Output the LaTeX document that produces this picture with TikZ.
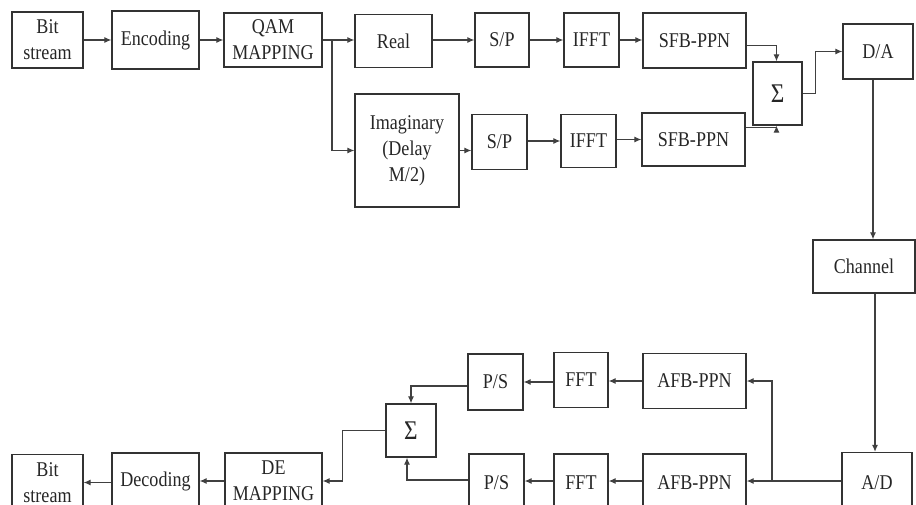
\documentclass[tikz,border=0pt]{standalone}
\usepackage{fontspec}
\setmainfont[FakeStretch=0.86]{Liberation Serif}
\usetikzlibrary{arrows.meta}
\begin{document}
\begin{tikzpicture}[x=1pt,y=-1pt,
  box/.style={draw=black!80, line width=1.3pt, align=center, inner sep=0pt,
    font=\fontsize{21}{26}\selectfont, text=black!85},
  sig/.style={box, font=\fontsize{27}{30}\selectfont},
  arr/.style={draw=black!75, line width=1.1pt, -{Latex[length=7pt,width=6pt]}},
  ln/.style={draw=black!75, line width=1.1pt}]
\useasboundingbox (0,0) rectangle (916,505);
% transmitter, top row
\node[box, minimum width=71pt, minimum height=56pt] (bs1) at (47.5,40) {Bit\\stream};
\node[box, minimum width=87pt, minimum height=58pt] (enc) at (155.5,40) {Encoding};
\node[box, minimum width=98pt, minimum height=54pt] (qam) at (273,40) {QAM\\MAPPING};
\node[box, minimum width=77pt, minimum height=53pt] (real) at (393.5,41) {Real};
\node[box, minimum width=104pt, minimum height=113pt] (imag) at (407,150.5) {Imaginary\\(Delay\\M/2)};
\node[box, minimum width=54pt, minimum height=54pt] (sp1) at (502,40) {S/P};
\node[box, minimum width=55pt, minimum height=54pt] (ifft1) at (591.5,40) {IFFT};
\node[box, minimum width=103pt, minimum height=55pt] (sfb1) at (694.5,40.5) {SFB-PPN};
\node[box, minimum width=55pt, minimum height=55pt] (sp2) at (499.5,142) {S/P};
\node[box, minimum width=55pt, minimum height=53pt] (ifft2) at (588.5,141) {IFFT};
\node[box, minimum width=103pt, minimum height=53pt] (sfb2) at (693.5,139.5) {SFB-PPN};
\node[sig, minimum width=49pt, minimum height=63pt] (sum1) at (777.5,93.5) {Σ};
\node[box, minimum width=70pt, minimum height=55pt] (da) at (878,51.5) {D/A};
\node[box, minimum width=102pt, minimum height=53pt] (chan) at (864,266.5) {Channel};
% receiver
\node[box, minimum width=70pt, minimum height=60pt] (ad) at (877,482.5) {A/D};
\node[box, minimum width=103pt, minimum height=55pt] (afb1) at (694.5,381) {AFB-PPN};
\node[box, minimum width=54pt, minimum height=55pt] (fft1) at (581,380) {FFT};
\node[box, minimum width=55pt, minimum height=56pt] (ps1) at (495.5,382) {P/S};
\node[box, minimum width=103pt, minimum height=58pt] (afb2) at (694.5,483) {AFB-PPN};
\node[box, minimum width=54pt, minimum height=58pt] (fft2) at (581,483) {FFT};
\node[box, minimum width=55pt, minimum height=58pt] (ps2) at (496.5,483) {P/S};
\node[sig, minimum width=50pt, minimum height=53pt] (sum2) at (411,430.5) {Σ};
\node[box, minimum width=97pt, minimum height=56pt] (dem) at (273.5,481) {DE\\MAPPING};
\node[box, minimum width=87pt, minimum height=56pt] (dec) at (155.5,481) {Decoding};
\node[box, minimum width=71pt, minimum height=56pt] (bs2) at (47.5,482.5) {Bit\\stream};
\coordinate (j1) at (332,40);
\coordinate (j2) at (772,481);
% transmitter connectors
\draw[arr] (bs1.east) -- (enc.west);
\draw[arr] (enc.east) -- (qam.west);
\draw[ln] (qam.east) -- (j1);
\draw[arr] (j1) -- (real.west|-j1);
\draw[arr] (j1) |- (imag.west);
\draw[arr] (real.east|-sp1.west) -- (sp1.west);
\draw[arr] (sp1.east) -- (ifft1.west);
\draw[arr] (ifft1.east) -- (sfb1.west|-ifft1.east);
\draw[arr] (imag.east) -- (sp2.west|-imag.east);
\draw[arr] (sp2.east|-ifft2.west) -- (ifft2.west);
\draw[arr] (ifft2.east|-sfb2.west) -- (sfb2.west);
\draw[arr] ([yshift=-5pt]sfb1.east) -| ([xshift=-1pt]sum1.north);
\draw[arr] ([yshift=12pt]sfb2.east) -| ([xshift=-1pt]sum1.south);
\draw[arr] (sum1.east) -- ++(13,0) |- (da.west);
\draw[arr] ([xshift=-5pt]da.south) -- ([xshift=-5pt]da.south|-chan.north);
\draw[arr] ([xshift=-2pt]ad.north|-chan.south) -- ([xshift=-2pt]ad.north);
% receiver connectors
\draw[arr] (ad.west|-j2) -- (afb2.east|-j2);
\draw[arr] (j2) |- (afb1.east);
\draw[arr] (afb1.west) -- (fft1.east|-afb1.west);
\draw[arr] (fft1.west|-ps1.east) -- (ps1.east);
\draw[arr] (afb2.west|-j2) -- (fft2.east|-j2);
\draw[arr] (fft2.west|-j2) -- (ps2.east|-j2);
\draw[arr] ([yshift=-4pt]ps1.west) -| (sum2.north);
\draw[arr] ([yshift=3pt]ps2.west) -| ([xshift=-4pt]sum2.south);
\draw[arr] (sum2.west) -- ++(-43,0) |- (dem.east);
\draw[arr] (dem.west) -- (dec.east);
\draw[arr] (dec.west|-bs2.east) -- (bs2.east);
\end{tikzpicture}
\end{document}
